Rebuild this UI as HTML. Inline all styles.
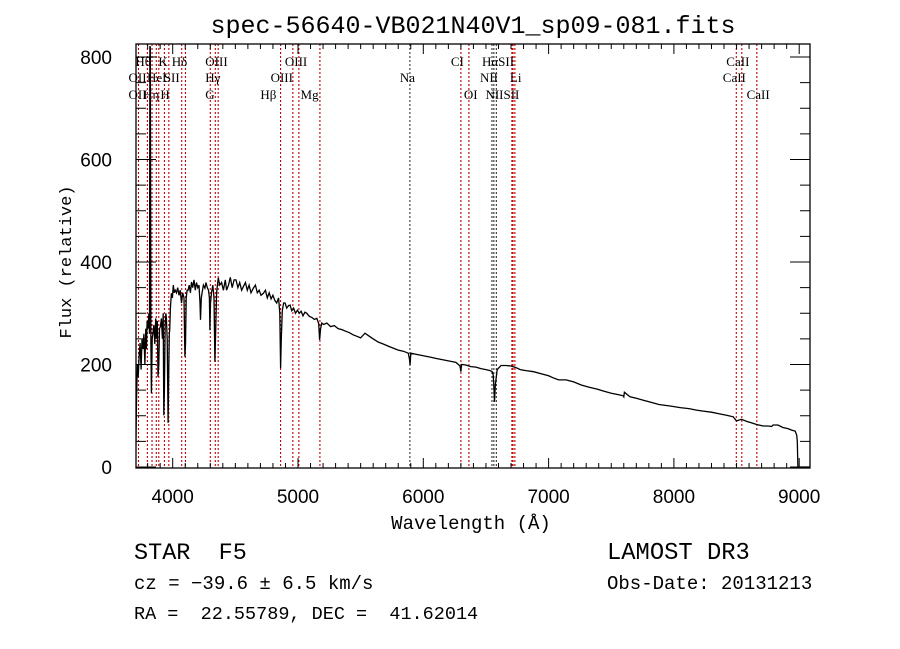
<!DOCTYPE html>
<html><head><meta charset="utf-8"><style>
body{margin:0;background:#fff;}
svg{display:block;}
.t{font-family:"Liberation Sans",sans-serif;}
.m{font-family:"Liberation Mono",monospace;}
</style></head><body>
<svg id="c" width="900" height="649" viewBox="0 0 900 649">
<rect width="900" height="649" fill="#fff"/>
<text class="m" x="473" y="33" font-size="25" text-anchor="middle">spec-56640-VB021N40V1_sp09-081.fits</text>
<g id="lines"></g>
<g id="labels"></g>
<clipPath id="clip"><rect x="136" y="44" width="674" height="424"/></clipPath>
<path id="spec" fill="none" stroke="#000" stroke-width="1.3" clip-path="url(#clip)"/>
<rect x="136" y="44" width="674" height="424" fill="none" stroke="#000" stroke-width="1.3"/>
<g id="ticks"></g>
<text class="m" x="0" y="0" font-size="17" text-anchor="middle" transform="translate(71,262) rotate(-90)">Flux (relative)</text>
<text class="m" x="471" y="529" font-size="19" text-anchor="middle">Wavelength (Å)</text>
<text class="m" x="134" y="559" font-size="23.5">STAR&#160;&#160;F5</text>
<text class="m" x="134" y="589" font-size="19">cz = −39.6 ± 6.5 km/s</text>
<text class="m" x="134" y="619" font-size="18.5">RA =&#160;&#160;22.55789, DEC =&#160;&#160;41.62014</text>
<text class="m" x="607" y="559" font-size="23.8">LAMOST DR3</text>
<text class="m" x="607" y="589" font-size="19">Obs-Date: 20131213</text>
</svg>
<script>
const waves=[3705,3707,3712,3718,3725,3732,3740,3748,3755,3763,3770,3778,3785,3790,3796,3803,3810,3815,3818,3821,3826,3830,3836,3843,3850,3857,3864,3870,3877,3883,3889,3895,3902,3910,3918,3924,3929,3934,3940,3946,3950,3956,3963,3968,3973,3976,3982,3990,3998,4005,4012,4020,4030,4040,4050,4060,4070,4080,4090,4097,4102,4108,4115,4123,4132,4141,4150,4160,4170,4180,4190,4200,4210,4218,4222,4228,4235,4245,4257,4266,4276,4286,4293,4297,4302,4310,4320,4330,4337,4342,4350,4357,4364,4375,4390,4405,4420,4430,4445,4460,4475,4490,4505,4520,4535,4550,4564,4580,4595,4610,4625,4644,4660,4675,4690,4705,4724,4740,4755,4770,4785,4800,4815,4830,4845,4855,4861,4867,4875,4885,4897,4910,4925,4937,4950,4965,4980,4995,5010,5025,5040,5055,5070,5090,5110,5130,5150,5165,5172,5180,5190,5205,5230,5260,5290,5320,5350,5380,5410,5440,5470,5500,5535,5570,5600,5640,5680,5720,5760,5800,5840,5880,5890,5895,5900,5940,5980,6020,6060,6100,6140,6180,6220,6260,6293,6300,6306,6340,6380,6420,6460,6500,6533,6550,6558,6563,6568,6575,6590,6620,6660,6700,6740,6773,6820,6880,6940,7000,7036,7080,7140,7200,7260,7320,7387,7440,7500,7560,7595,7600,7605,7650,7700,7760,7820,7880,7970,8050,8120,8180,8233,8300,8360,8420,8473,8500,8540,8580,8620,8660,8712,8750,8780,8792,8830,8870,8910,8940,8968,8980,8985,8990,9088];
const flux=[0,60,140,200,176,215,242,190,250,230,260,200,270,230,285,270,300,260,820,820,240,144,250,262,277,240,290,250,285,176,200,270,274,290,250,300,101,150,280,300,290,250,86,180,260,267,310,339,330,355,340,345,340,350,335,345,320,340,330,215,240,330,345,345,355,340,361,350,365,345,360,350,355,320,287,330,340,355,349,360,350,345,330,267,320,340,355,330,205,260,340,355,369,355,360,345,365,345,355,370,350,365,365,350,360,345,352,360,345,355,340,349,355,340,345,335,339,345,330,340,328,335,325,320,330,300,193,250,305,320,320,310,315,316,305,310,300,306,300,304,295,302,300,294,292,288,290,280,248,270,281,278,281,274,276,270,268,265,262,258,255,252,261,255,250,244,240,236,232,228,226,222,210,199,222,220,218,216,214,212,210,208,206,204,197,186,200,199,196,195,192,190,188,186,180,160,127,160,190,198,198,197,194,190,188,186,182,178,174,170,170,166,160,156,152,148,144,141,139,137,146,137,134,130,126,122,119,116,114,111,109,107,104,101,98,90,93,89,86,83,80,80,79,82,82,77,75,72,70,62,50,0,0,0];
const lineWaves=[3727,3798,3835,3869,3889,3934,3969,4072,4102,4300,4340,4363,4861,4959,5007,5175,5893,6300,6364,6548,6563,6583,6707,6716,6731,8498,8542,8662];
const lineColors=["r","r","r","r","r","r","r","r","r","r","r","r","r","r","r","r","k","r","r","k","k","k","r","r","r","r","r","r"];
const labelText=["Hθ","K","Hδ","OIII","OIII","CI","HαSII","CaII","OII","HeI","SII","Hγ","OIII","Na","NII","Li","CaII","OII","Hη","H","G","Hβ","Mg","OI","NIISII","CaII"];
const labelWave=[3798,3934,4072,4300,4959,6300,6548,8498,3727,3835,3969,4300,4861,5893,6548,6707,8470,3727,3820,3950,4300,4780,5100,6364,6560,8620];
const labelRow=[0,0,0,0,0,0,0,0,1,1,1,1,1,1,1,1,1,2,2,2,2,2,2,2,2,2];
const labelDx=[-12,-6,-10,-5,-8,-10,-10,-10,-10,-5,-5,-5,-10,-10,-12,-2,-10,-10,-7,-6,-5,-10,-10,-5,-8,-5];
const xTicksMajor=[4000,5000,6000,7000,8000,9000];
const yTicksMajor=[0,200,400,600,800];
const NS='http://www.w3.org/2000/svg';
const X=w=>172.7+(w-4000)*0.1253;
const Y=f=>467-f*0.5125;
const L=136,R=810,T=44,B=468;
function mk(tag,attrs,parent){const e=document.createElementNS(NS,tag);for(const k in attrs)e.setAttribute(k,attrs[k]);document.getElementById(parent).appendChild(e);return e;}
lineWaves.forEach((w,i)=>{const e=mk('line',{x1:X(w),x2:X(w),y1:T,y2:B,stroke:lineColors[i]=='r'?'#c00000':'#333','stroke-width':1.1,'stroke-dasharray':'2,2'},'lines');

});
const rowY=[66,82,99];
labelText.forEach((t,i)=>{const e=mk('text',{x:X(labelWave[i])+labelDx[i],y:rowY[labelRow[i]],'font-size':13,'font-family':'Liberation Serif, serif'},'labels');e.textContent=t;

});
let d='';waves.forEach((w,i)=>{d+=(i?'L':'M')+X(w).toFixed(1)+','+Y(flux[i]).toFixed(1);});
document.getElementById('spec').setAttribute('d',d);
for(let w=3800;w<=9000;w+=100){const maj=w%1000==0;const len=maj?10:5;
mk('line',{x1:X(w),x2:X(w),y1:B,y2:B-len,stroke:'#000'},'ticks');
mk('line',{x1:X(w),x2:X(w),y1:T,y2:T+len,stroke:'#000'},'ticks');}
xTicksMajor.forEach(w=>{const e=mk('text',{x:X(w),y:503,'font-size':19,'text-anchor':'middle','font-family':'Liberation Sans, sans-serif'},'ticks');e.textContent=w;

});
for(let f=0;f<=800;f+=50){const maj=f%200==0;const len=maj?20:10;
mk('line',{x1:L,x2:L+len,y1:Y(f),y2:Y(f),stroke:'#000'},'ticks');
mk('line',{x1:R,x2:R-len,y1:Y(f),y2:Y(f),stroke:'#000'},'ticks');}
yTicksMajor.forEach(f=>{const e=mk('text',{x:112,y:Y(f)+7,'font-size':19,'text-anchor':'end','font-family':'Liberation Sans, sans-serif'},'ticks');e.textContent=f;

});
</script>
</body></html>
